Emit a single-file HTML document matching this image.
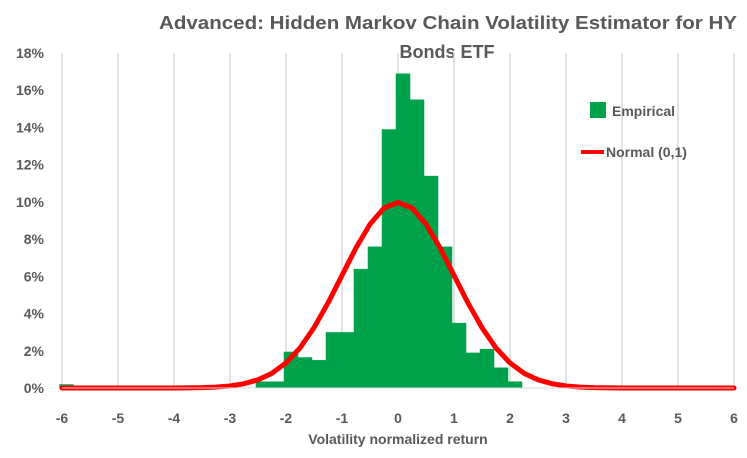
<!DOCTYPE html>
<html><head><meta charset="utf-8"><style>
body{margin:0;background:#fff;}
svg{font-family:"Liberation Sans",sans-serif;}
</style></head><body>
<svg width="747" height="453" id="c">
<text x="448" y="29" text-anchor="middle" font-size="18" font-weight="bold" fill="#595959" textLength="578" lengthAdjust="spacingAndGlyphs">Advanced: Hidden Markov Chain Volatility Estimator for HY</text>
<text x="447" y="58" text-anchor="middle" font-size="18" font-weight="bold" fill="#595959">Bonds ETF</text>
<text x="398" y="444" text-anchor="middle" font-size="14" font-weight="bold" fill="#595959">Volatility normalized return</text>
<g id="grid"></g>
<g id="bars"></g>
<g id="line"></g>
<g id="ax"></g>
<g>
<rect x="590" y="102" width="16" height="16" fill="#00A14B"/>
<text x="612" y="116" font-size="14" font-weight="bold" fill="#595959">Empirical</text>
<line x1="581" y1="152" x2="604" y2="152" stroke="#FF0000" stroke-width="4"/>
<text x="606" y="157" font-size="14" font-weight="bold" fill="#595959">Normal (0,1)</text>
</g>
</svg>
<script>
const xTicks=[-6,-5,-4,-3,-2,-1,0,1,2,3,4,5,6];
const yTicks=[0,2,4,6,8,10,12,14,16,18];
const binStarts=[-6.05,-2.54,-2.29,-2.04,-1.79,-1.54,-1.29,-1.04,-0.79,-0.54,-0.29,-0.04,0.21,0.46,0.71,0.96,1.21,1.46,1.71,1.96];
const binValues=[0.2,0.35,0.35,1.95,1.65,1.5,3.0,3.0,6.4,7.6,13.9,16.9,15.5,11.4,7.6,3.5,1.9,2.1,1.1,0.35];
const binWidth=0.25;
const normX=[-6,-5,-4,-3.5,-3.25,-3,-2.75,-2.5,-2.25,-2,-1.75,-1.5,-1.25,-1,-0.75,-0.5,-0.25,0,0.25,0.5,0.75,1,1.25,1.5,1.75,2,2.25,2.5,2.75,3,3.25,3.5,4,5,6];
const normY=[0,0,0.003,0.02,0.05,0.11,0.23,0.44,0.79,1.35,2.15,3.24,4.57,6.05,7.53,8.8,9.67,9.97,9.67,8.8,7.53,6.05,4.57,3.24,2.15,1.35,0.79,0.44,0.23,0.11,0.05,0.02,0.003,0,0];
const X=v=>398+v*56, Y=v=>388-v*18.61;
const NS="http://www.w3.org/2000/svg";
function mk(t,p,a){const e=document.createElementNS(NS,t);for(const k in a)e.setAttribute(k,a[k]);p.appendChild(e);return e;}
const G=document.getElementById('grid'),B=document.getElementById('bars'),L=document.getElementById('line'),A=document.getElementById('ax');
xTicks.forEach(t=>{
 const g=mk('line',G,{x1:X(t),x2:X(t),y1:Y(18),y2:Y(0),stroke:'#d9d9d9','stroke-width':1.5});
 
 
 const l=mk('text',A,{x:X(t),y:423,'text-anchor':'middle','font-size':14,'font-weight':'bold',fill:'#595959'});
 l.textContent=String(t);
 
 
});
yTicks.forEach(t=>{
 const l=mk('text',A,{x:44,y:Y(t)+5,'text-anchor':'end','font-size':14,'font-weight':'bold',fill:'#595959'});
 l.textContent=t+'%';
 
 
});
const base=mk('line',A,{x1:X(-6),x2:X(6),y1:Y(0),y2:Y(0),stroke:'#d9d9d9','stroke-width':1});


binStarts.forEach((s,i)=>{
 const r=mk('rect',B,{x:X(s),y:Y(binValues[i]),width:X(s+binWidth)-X(s)+0.5,height:Y(0)-Y(binValues[i]),fill:'#00A14B'});
 
 
});
const p=mk('polyline',L,{points:normX.map((x,i)=>X(x)+','+Y(normY[i])).join(' '),fill:'none',stroke:'#FF0000','stroke-width':5,'stroke-linejoin':'round','stroke-linecap':'round'});


</script>
</body></html>
